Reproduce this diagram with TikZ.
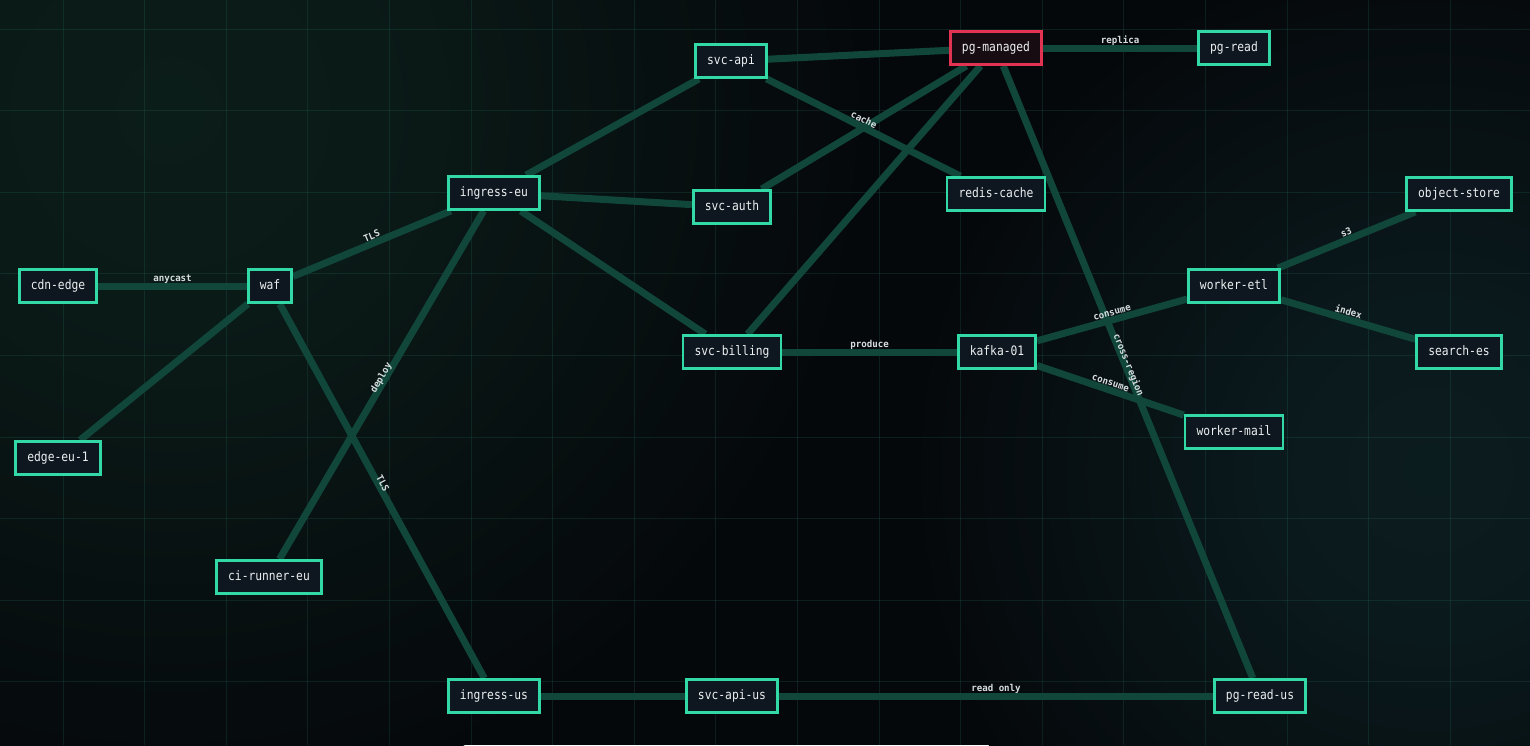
\documentclass[tikz,border=0pt]{standalone}
\usepackage{fontspec}
\newfontfamily\nodefont[FakeStretch=0.87]{DejaVu Sans Mono}
\newfontfamily\labfont[FakeStretch=0.96]{DejaVu Sans Mono Bold}
\usetikzlibrary{calc}
\pgfdeclarelayer{bg}
\pgfsetlayers{bg,main}
\definecolor{bgc}{HTML}{05080B}
\definecolor{glowA}{HTML}{0B1D19}
\definecolor{glowB}{HTML}{0B1C1F}
\definecolor{gridc}{HTML}{2A7A68}
\definecolor{nodeb}{HTML}{33D8A7}
\definecolor{nodef}{HTML}{0E1620}
\definecolor{nodet}{HTML}{ECF0F0}
\definecolor{hotb}{HTML}{E23352}
\definecolor{hotf}{HTML}{170C12}
\definecolor{edgec}{HTML}{10473A}
\definecolor{labc}{HTML}{D8DEDF}
\pgfdeclareradialshading{glowshadeA}{\pgfpointorigin}{color(0bp)=(glowA); color(8bp)=(glowA!85!bgc); color(25bp)=(bgc); color(50bp)=(bgc)}
\pgfdeclareradialshading{glowshadeB}{\pgfpointorigin}{color(0bp)=(glowB); color(8bp)=(glowB!85!bgc); color(25bp)=(bgc); color(50bp)=(bgc)}
\tikzset{
  box/.style={draw=nodeb, line width=2.8pt, fill=nodef, text=nodet,
    font=\nodefont\fontsize{13}{15}\selectfont, inner xsep=11.5pt, inner ysep=0pt,
    minimum height=33pt, text height=9.8pt, text depth=3pt},
  hot/.style={box, draw=hotb, fill=hotf},
  edge/.style={draw=edgec, line width=7pt},
  lab/.style={text=labc, font=\labfont\fontsize{9.5}{11}\selectfont, inner sep=0pt,
    text height=7.2pt, text depth=2.2pt},
  gridline/.style={draw=gridc, line width=1pt, opacity=0.2}
}
\newcommand\plainedge[2]{%
  \begin{pgfonlayer}{bg}\draw[edge] (#1) -- (#2);\end{pgfonlayer}}
\newcommand\labeledge[3]{%
  \begin{pgfonlayer}{bg}\draw[edge] (#1) -- (#2) coordinate[pos=0.5] (m-#1-#2);\end{pgfonlayer}
  \path let \p1=($(#2.center)-(#1.center)$), \n1={atan2(\y1,\x1)} in
    node[lab, rotate=\n1] at ([yshift=7pt]m-#1-#2) {#3};}
\begin{document}
\begin{tikzpicture}[x=1pt,y=-1pt]
\useasboundingbox (0,0) rectangle (1530,745);
\begin{pgfonlayer}{bg}
  \fill[bgc] (0,0) rectangle (1530,745);
  \begin{scope}
    \clip (0,0) rectangle (1530,745);
    \shade[shading=glowshadeA] (170,110) circle (700pt);
    \shade[shading=glowshadeB] (1430,470) circle (520pt);
    \foreach \i in {0,...,17} \draw[gridline] ({63+81.6*\i},0) -- ({63+81.6*\i},745);
    \foreach \j in {0,...,8} \draw[gridline] (0,{29+81.6*\j}) -- (1530,{29+81.6*\j});
  \end{scope}
\end{pgfonlayer}

% nodes
\node[box] (api)     at (731,61)   {svc-api};
\node[hot] (pgm)     at (996,48)   {pg-managed};
\node[box] (pgread)  at (1234,48)  {pg-read};
\node[box] (ingeu)   at (494,193)  {ingress-eu};
\node[box] (auth)    at (732,207)  {svc-auth};
\node[box] (redis)   at (996,194)  {redis-cache};
\node[box] (obj)     at (1459,194) {object-store};
\node[box] (cdn)     at (58,286)   {cdn-edge};
\node[box] (waf)     at (270,286)  {waf};
\node[box] (etl)     at (1234,286) {worker-etl};
\node[box] (billing) at (732,352)  {svc-billing};
\node[box] (kafka)   at (997,352)  {kafka-01};
\node[box] (search)  at (1459,352) {search-es};
\node[box] (edge1)   at (58,458)   {edge-eu-1};
\node[box] (mail)    at (1234,432) {worker-mail};
\node[box] (ci)      at (269,577)  {ci-runner-eu};
\node[box] (ingus)   at (494,696)  {ingress-us};
\node[box] (apius)   at (732,696)  {svc-api-us};
\node[box] (pgrus)   at (1260,696) {pg-read-us};

% connectors
\plainedge{waf}{edge1}
\plainedge{ingeu}{api}
\plainedge{ingeu}{auth}
\plainedge{ingeu}{billing}
\plainedge{api}{pgm}
\plainedge{auth}{pgm}
\plainedge{billing}{pgm}
\plainedge{ingus}{apius}
\labeledge{cdn}{waf}{anycast}
\labeledge{waf}{ingeu}{TLS}
\labeledge{waf}{ingus}{TLS}
\labeledge{ci}{ingeu}{deploy}
\labeledge{api}{redis}{cache}
\labeledge{pgm}{pgread}{replica}
\labeledge{pgm}{pgrus}{cross-region}
\labeledge{billing}{kafka}{produce}
\labeledge{kafka}{etl}{consume}
\labeledge{kafka}{mail}{consume}
\labeledge{etl}{obj}{s3}
\labeledge{etl}{search}{index}
\labeledge{apius}{pgrus}{read only}
\end{tikzpicture}
\end{document}
